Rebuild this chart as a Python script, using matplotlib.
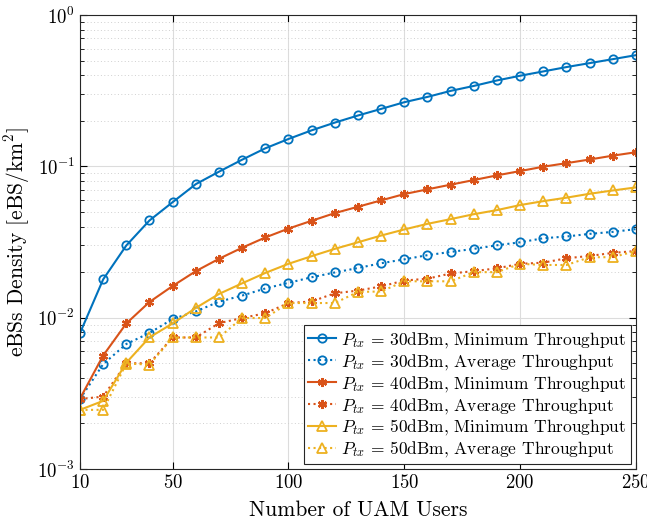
import numpy as np
import matplotlib
matplotlib.use('Agg')
import matplotlib.pyplot as plt
from matplotlib.ticker import LogLocator, NullFormatter

plt.rcParams['font.family'] = 'serif'
plt.rcParams['font.serif'] = ['cmr10', 'DejaVu Serif']
plt.rcParams['mathtext.fontset'] = 'cm'
plt.rcParams['axes.formatter.use_mathtext'] = True

users = np.arange(10, 251, 10)

min_30 = [0.0079, 0.0179, 0.030, 0.0439, 0.058, 0.0763, 0.0922, 0.1107, 0.1316, 0.1517,
          0.173, 0.1946, 0.2168, 0.2397, 0.2654, 0.2877, 0.3153, 0.340, 0.3696, 0.397,
          0.424, 0.453, 0.481, 0.511, 0.543]
avg_30 = [0.0029, 0.00493, 0.0067, 0.00792, 0.0098, 0.0110, 0.01276, 0.0140, 0.0156, 0.0170,
          0.0185, 0.0199, 0.0213, 0.0229, 0.0243, 0.0259, 0.0272, 0.0285, 0.0301, 0.0315,
          0.0335, 0.0344, 0.0358, 0.0369, 0.0385]
min_40 = [0.00292, 0.00562, 0.00916, 0.0127, 0.0162, 0.0203, 0.0245, 0.0290, 0.0339, 0.0388,
          0.0437, 0.0491, 0.0541, 0.0596, 0.0656, 0.0705, 0.0757, 0.0812, 0.0872, 0.0931,
          0.0995, 0.105, 0.111, 0.1177, 0.124]
avg_40 = [0.0029, 0.00301, 0.0050, 0.0050, 0.0074, 0.0074, 0.0092, 0.00995, 0.0107, 0.0125,
          0.0128, 0.0145, 0.0151, 0.0161, 0.0176, 0.0181, 0.0196, 0.0203, 0.0212, 0.0227,
          0.0231, 0.0247, 0.0256, 0.0268, 0.0276]
min_50 = [0.00246, 0.00282, 0.00504, 0.00741, 0.00916, 0.0116, 0.01435, 0.01687, 0.01976, 0.0227,
          0.0255, 0.0285, 0.0315, 0.0349, 0.0383, 0.0417, 0.0448, 0.0483, 0.0514, 0.0555,
          0.0589, 0.0621, 0.0659, 0.0693, 0.0726]
avg_50 = [0.00246, 0.00246, 0.00498, 0.0049, 0.0074, 0.0074, 0.0074, 0.00995, 0.00995, 0.0125,
          0.0125, 0.0125, 0.0148, 0.0149, 0.0174, 0.0174, 0.0174, 0.0200, 0.0200, 0.0227,
          0.0223, 0.0223, 0.0251, 0.0251, 0.0276]

blue = '#0072BD'
red = '#D95319'
yellow = '#EDB120'
star = (6, 2, 0)

fig = plt.figure(figsize=(6.47, 5.27), dpi=100)
ax = fig.add_axes([0.1236, 0.110, 0.8594, 0.8615])

ax.plot(users, min_30, '-', color=blue, marker='o', mfc='none', ms=6, mew=1.3, lw=1.5,
        label=r'$P_{tx}$ = 30dBm, Minimum Throughput')
ax.plot(users, avg_30, ':', color=blue, marker='o', mfc='none', ms=6, mew=1.3, lw=1.5,
        label=r'$P_{tx}$ = 30dBm, Average Throughput')
ax.plot(users, min_40, '-', color=red, marker=star, ms=6.5, mew=1.6, lw=1.5,
        label=r'$P_{tx}$ = 40dBm, Minimum Throughput')
ax.plot(users, avg_40, ':', color=red, marker=star, ms=6.5, mew=1.6, lw=1.5,
        label=r'$P_{tx}$ = 40dBm, Average Throughput')
ax.plot(users, min_50, '-', color=yellow, marker='^', mfc='none', ms=7, mew=1.3, lw=1.5,
        label=r'$P_{tx}$ = 50dBm, Minimum Throughput')
ax.plot(users, avg_50, ':', color=yellow, marker='^', mfc='none', ms=7, mew=1.3, lw=1.5,
        label=r'$P_{tx}$ = 50dBm, Average Throughput')

ax.set_yscale('log')
ax.set_xlim(10, 250)
ax.set_ylim(1e-3, 1)
ax.set_xticks([10, 50, 100, 150, 200, 250])
ax.yaxis.set_minor_locator(LogLocator(base=10, subs=np.arange(2, 10), numticks=20))
ax.yaxis.set_minor_formatter(NullFormatter())

ax.grid(True, which='major', color='#dcdcdc', lw=0.8)
ax.grid(True, which='minor', axis='y', color='#d0d0d0', ls=(0, (1, 2.5)), lw=0.7)
ax.set_axisbelow(True)

ax.tick_params(which='both', direction='in', top=True, right=True, labelsize=13.5)
ax.tick_params(which='major', length=5)
ax.tick_params(which='minor', length=3)
for s in ax.spines.values():
    s.set_color('#262626')
    s.set_linewidth(0.8)

ax.set_xlabel('Number of UAM Users', fontsize=15.5, labelpad=6)
ax.set_ylabel(r'eBSs Density [eBS/km$^2$]', fontsize=15.5, labelpad=4)

leg = ax.legend(loc='lower right', fontsize=12.5, fancybox=False, framealpha=1,
                edgecolor='#262626', labelspacing=0.12, handlelength=1.6,
                handletextpad=0.3, borderpad=0.25, borderaxespad=0.3)
leg.get_frame().set_linewidth(0.8)

fig.savefig('out.png', dpi=100)
